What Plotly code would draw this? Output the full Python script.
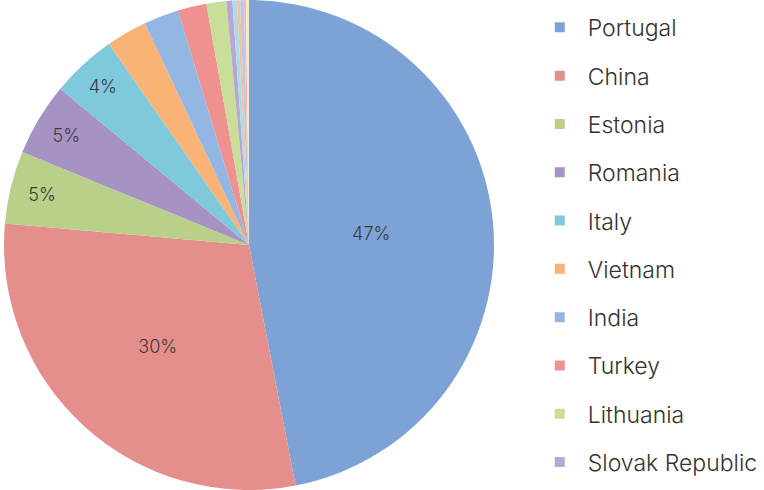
import plotly.graph_objects as go

countries = ["Portugal", "China", "Estonia", "Romania", "Italy", "Vietnam",
             "India", "Turkey", "Lithuania", "Slovak Republic",
             "Other 1", "Other 2", "Other 3", "Other 4", "Other 5"]
shares = [46.9, 29.4, 4.8, 4.8, 4.3, 2.7, 2.3, 1.9, 1.3, 0.4,
          0.3, 0.2, 0.25, 0.13, 0.2]
shown_labels = ["47%", "30%", "5%", "5%", "4%", "", "", "", "", "",
                "", "", "", "", ""]
legend_count = 10

colors = ["#7DA3D6", "#E58F8C", "#B8D08A", "#A792C4", "#7FC9DC", "#F9B377",
          "#94B6E2", "#EE918F", "#C9DE99", "#B7A7D3",
          "#A9DCEA", "#FAC08F", "#B7C9EA", "#F4B9B7", "#F3EBC8"]

fig = go.Figure()
fig.add_trace(go.Pie(
    labels=countries, values=shares, text=shown_labels,
    textinfo="text", textposition="inside", insidetextorientation="horizontal",
    sort=False, direction="clockwise", rotation=0,
    marker=dict(colors=colors, line=dict(width=0)),
    textfont=dict(family="Inter", size=18, color="#3a3a3a", weight=300),
    domain=dict(x=[0, 498 / 764], y=[0, 1]),
    showlegend=False, hoverinfo="label+percent",
))

for i in range(legend_count):
    fig.add_trace(go.Scatter(
        x=[None], y=[None], mode="markers", name=countries[i],
        marker=dict(symbol="square", size=10, color=colors[i]),
        legendgroup=countries[i], showlegend=True,
    ))

fig.update_layout(
    width=764, height=490,
    margin=dict(l=0, r=0, t=0, b=0),
    paper_bgcolor="white", plot_bgcolor="white",
    xaxis=dict(visible=False), yaxis=dict(visible=False),
    legend=dict(x=0.696, y=0.988, xanchor="left", yanchor="top",
                font=dict(family="Inter", size=23, color="#333333", weight=300),
                itemwidth=46, tracegroupgap=15.4, bgcolor="rgba(0,0,0,0)"),
)

fig.write_html("out.html")
